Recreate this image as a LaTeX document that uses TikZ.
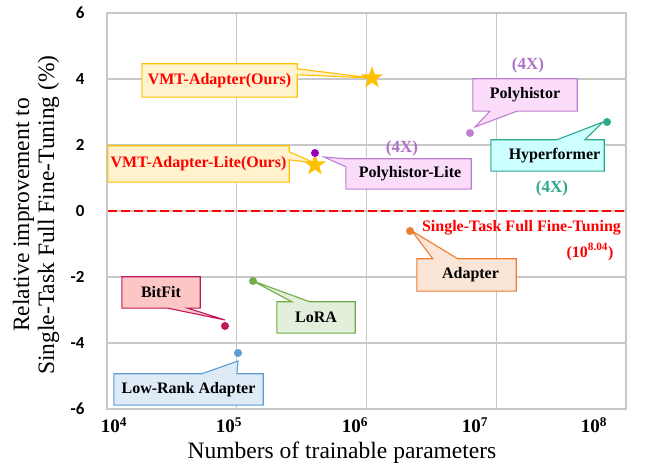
\documentclass[tikz,border=0pt]{standalone}
\usepackage{fontspec}
\setmainfont{Liberation Serif}
\newfontfamily\tickfont{Carlito}
\usetikzlibrary{shapes.geometric,backgrounds}
\pgfdeclarelayer{gridlayer}
\pgfsetlayers{gridlayer,background,main}

\definecolor{gridgray}{HTML}{C8C8C8}
\definecolor{gold}{HTML}{FFC000}
\definecolor{goldfill}{HTML}{FFF2CC}
\definecolor{polyline}{HTML}{BF7FD0}
\definecolor{polyfill}{HTML}{FBDDFB}
\definecolor{polydark}{HTML}{9A00B8}
\definecolor{polytext}{HTML}{B070C8}
\definecolor{hyperline}{HTML}{2BA98B}
\definecolor{hyperfill}{HTML}{CCFFFF}
\definecolor{adaptline}{HTML}{ED7D31}
\definecolor{adaptfill}{HTML}{FBE5D6}
\definecolor{bitline}{HTML}{C2185B}
\definecolor{bitfill}{HTML}{FBC6C4}
\definecolor{loraline}{HTML}{70AD47}
\definecolor{lorafill}{HTML}{E2EFDA}
\definecolor{lowline}{HTML}{5B9BD5}
\definecolor{lowfill}{HTML}{DEEBF7}

\tikzset{
  plotgrid/.style={draw=gridgray, line width=1.3pt},
  labelbox/.style={inner sep=0pt, font=\fontsize{16}{18}\selectfont\bfseries},
  callout/.style={line width=1.1pt, line join=miter},
  dot/.style={circle, inner sep=0pt, minimum size=8pt},
  goldstar/.style={star, star points=5, star point ratio=2.5, inner sep=0pt,
    minimum size=23pt, fill=gold},
  ytick/.style={anchor=east, font=\tickfont\bfseries\fontsize{17}{20}\selectfont},
  xtick/.style={font=\fontsize{19}{22}\selectfont\bfseries},
  times/.style={font=\fontsize{17}{20}\selectfont\bfseries},
}

\begin{document}
\begin{tikzpicture}[x=1pt, y=-1pt]
\useasboundingbox (0,0) rectangle (654,470);

% grid
\begin{pgfonlayer}{gridlayer}
\foreach \gx in {236.75,366.5,496.25}
  \draw[plotgrid] (\gx,13) -- (\gx,409);
\foreach \gy in {79,145,211,277,343}
  \draw[plotgrid] (107,\gy) -- (626,\gy);
\draw[plotgrid] (107,13) rectangle (626,409);
\end{pgfonlayer}

% tick labels and axis titles
\foreach \v/\y in {6/13, 4/79, 2/145, 0/211, -2/277, -4/343, -6/409}
  \node[ytick] (yl\v) at (88,\y) {\v};
\foreach \e/\x in {4/114, 5/229, 6/355, 7/475, 8/594}
  \node[xtick] (xl\e) at (\x,425) {10\textsuperscript{\e}};
\node[font=\fontsize{23.5}{25}\selectfont] (xtitle) at (342,453) {Numbers of trainable parameters};
\node[font=\fontsize{23.5}{25}\selectfont, rotate=90, align=center] (ytitle) at (36,215)
  {Relative improvement to\\Single-Task Full Fine-Tuning (\%)};

% points
\node[goldstar] (vmtstar) at (372,78) {};
\node[goldstar] (litestar) at (315,165) {};
\node[dot, fill=polydark] (plitedot) at (315,153) {};
\node[dot, fill=polyline] (polydot) at (470,133) {};
\node[dot, fill=hyperline] (hyperdot) at (607,122) {};
\node[dot, fill=adaptline] (adaptdot) at (410,231) {};
\node[dot, fill=bitline] (bitdot) at (225,326) {};
\node[dot, fill=loraline] (loradot) at (253,281) {};
\node[dot, fill=lowline] (lowdot) at (238,353) {};

% label boxes
\node[labelbox, red, minimum width=155pt, minimum height=33pt] (vmtbox) at (219.5,80.5) {VMT-Adapter(Ours)};
\node[labelbox, red, minimum width=181pt, minimum height=36pt] (litebox) at (198.5,164) {VMT-Adapter-Lite(Ours)};
\node[labelbox, minimum width=125pt, minimum height=30pt] (plitebox) at (408.5,174) {\hspace*{3pt}Polyhistor-Lite};
\node[labelbox, minimum width=104pt, minimum height=32pt] (polybox) at (525,95) {Polyhistor};
\node[labelbox, minimum width=113pt, minimum height=31pt] (hyperbox) at (547.5,155.5) {\hspace*{14pt}Hyperformer};
\node[labelbox, minimum width=99pt, minimum height=32pt] (adaptbox) at (466.5,275) {\hspace*{8pt}Adapter};
\node[labelbox, minimum width=78pt, minimum height=31pt] (bitbox) at (161,292.5) {BitFit};
\node[labelbox, minimum width=78pt, minimum height=31pt] (lorabox) at (316,317.5) {LoRA};
\node[labelbox, minimum width=149pt, minimum height=31pt] (lowbox) at (188.5,389.5) {Low-Rank Adapter};

% extra labels
\node[times, polytext] (plite4x) at (402,148) {(4X)};
\node[times, polytext] (poly4x) at (528,65) {(4X)};
\node[times, hyperline] (hyper4x) at (552,188) {(4X)};
\node[labelbox, red] (stft) at (521.5,228) {Single-Task Full Fine-Tuning};
\node[labelbox, red] (stftval) at (590,252) {(10\textsuperscript{8.04})};

\begin{scope}[on background layer]
\draw[red, line width=2pt, dash pattern=on 9pt off 4pt] (108,211.5) -- (624,211.5);

% callouts
\draw[callout, gold, fill=goldfill] (vmtbox.north west) -- (vmtbox.north east)
  -- ([yshift=-5pt]vmtbox.north east) -- (vmtstar.center)
  -- ([yshift=-11pt]vmtbox.north east) -- (vmtbox.south east) -- (vmtbox.south west) -- cycle;
\draw[callout, gold, fill=goldfill] (litebox.north west) -- (litebox.north east)
  -- ([yshift=-6pt]litebox.north east) -- ([yshift=2pt]litestar.center)
  -- ([yshift=-14pt]litebox.north east) -- (litebox.south east) -- (litebox.south west) -- cycle;
\draw[callout, polyline, fill=polyfill] (plitebox.north west) -- ([xshift=9pt,yshift=-4pt]plitedot.center)
  -- ([yshift=-8pt]plitebox.north west) -- (plitebox.south west) -- (plitebox.south east)
  -- (plitebox.north east) -- cycle;
\draw[callout, polyline, fill=polyfill] (polybox.north west) -- (polybox.north east)
  -- (polybox.south east) -- ([xshift=44pt]polybox.south west)
  -- ([xshift=5pt,yshift=6pt]polydot.center) -- ([xshift=17pt]polybox.south west)
  -- (polybox.south west) -- cycle;
\draw[callout, hyperline, fill=hyperfill] (hyperbox.north west) -- ([xshift=66pt]hyperbox.north west)
  -- ([xshift=-4pt]hyperdot.center) -- ([xshift=94pt]hyperbox.north west)
  -- (hyperbox.north east) -- (hyperbox.south east) -- (hyperbox.south west) -- cycle;
\draw[callout, adaptline, fill=adaptfill] (adaptbox.north west) -- ([xshift=16pt]adaptbox.north west)
  -- ([xshift=2pt]adaptdot.center) -- ([xshift=41pt]adaptbox.north west)
  -- (adaptbox.north east) -- (adaptbox.south east) -- (adaptbox.south west) -- cycle;
\draw[callout, bitline, fill=bitfill] (bitbox.north west) -- (bitbox.north east)
  -- (bitbox.south east) -- ([xshift=66pt]bitbox.south west)
  -- ([yshift=6pt]bitdot.center) -- ([xshift=46pt]bitbox.south west)
  -- (bitbox.south west) -- cycle;
\draw[callout, loraline, fill=lorafill] (lorabox.north west) -- ([xshift=15pt]lorabox.north west)
  -- (loradot.center) -- ([xshift=33pt]lorabox.north west)
  -- (lorabox.north east) -- (lorabox.south east) -- (lorabox.south west) -- cycle;
\draw[callout, lowline, fill=lowfill] (lowbox.north west) -- ([xshift=88pt]lowbox.north west)
  -- ([yshift=-8pt]lowdot.center) -- ([xshift=123pt]lowbox.north west)
  -- (lowbox.north east) -- (lowbox.south east) -- (lowbox.south west) -- cycle;
\end{scope}
\end{tikzpicture}
\end{document}
